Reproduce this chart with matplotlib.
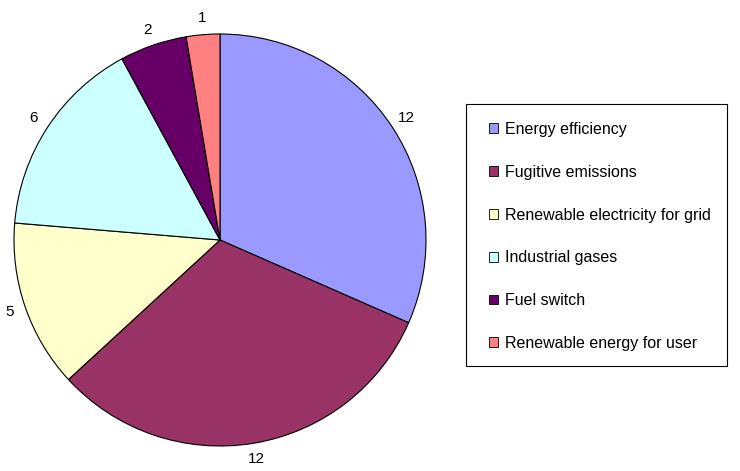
import matplotlib
matplotlib.use("Agg")
import matplotlib.pyplot as plt
from matplotlib.patches import Patch, Rectangle

categories = ["Energy efficiency", "Fugitive emissions", "Renewable electricity for grid",
              "Industrial gases", "Fuel switch", "Renewable energy for user"]
values = [12, 12, 5, 6, 2, 1]
colors = ["#9999FF", "#993366", "#FFFFCC", "#CCFFFF", "#660066", "#FF8080"]

plt.rcParams['font.family'] = ['Liberation Sans', 'DejaVu Sans']

W, H = 740, 471
fig = plt.figure(figsize=(W / 100, H / 100), dpi=100)
ax = fig.add_axes([0, 0, 1, 1])

cx, cy, r = 220, H - 240, 206
wedges, texts = ax.pie(values, colors=colors, startangle=90, counterclock=False,
                       center=(cx, cy), radius=r, labels=[str(v) for v in values],
                       labeldistance=1.08,
                       wedgeprops=dict(edgecolor='black', linewidth=0.8),
                       textprops=dict(fontsize=11, color='black'), frame=True)
ax.set_xlim(0, W)
ax.set_ylim(0, H)
ax.set_aspect('equal')
ax.axis('off')
for t in texts:
    t.set_ha('center')
    t.set_va('center')

# legend frame
fig.add_artist(Rectangle((466 / W, 1 - 366 / H), (727 - 466) / W, (366 - 104) / H,
                         transform=fig.transFigure, facecolor='white',
                         edgecolor='black', linewidth=0.8, zorder=2))

handles = [Patch(facecolor=c, edgecolor='black', linewidth=0.6) for c in colors]
leg = fig.legend(handles, categories, loc='upper left',
                 bbox_to_anchor=(489 / W, 1 - 122 / H), borderaxespad=0,
                 fontsize=11.5, frameon=False,
                 handlelength=0.58, handleheight=0.58, handletextpad=0.45,
                 labelspacing=1.74, borderpad=0)
leg.set_zorder(3)

fig.savefig("out.png", dpi=100)
